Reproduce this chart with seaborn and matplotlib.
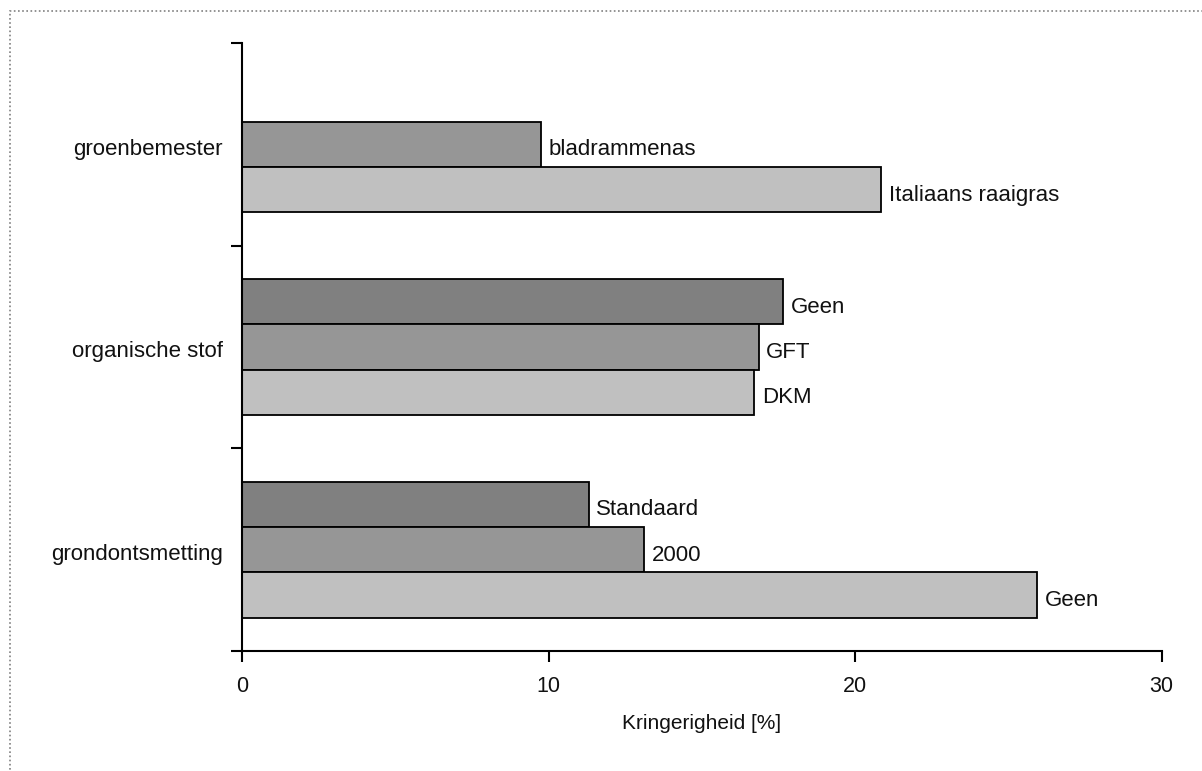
import matplotlib
matplotlib.use("Agg")
import matplotlib.pyplot as plt
import matplotlib.patches as mpatches
from matplotlib.ticker import FixedLocator
import seaborn as sns
import pandas as pd
import numpy as np

categories = ["groenbemester", "organische stof", "grondontsmetting"]
series_order = ["s3", "s2", "s1"]
# per series: values and labels, in category order (None = no bar)
s3_values = [None, 17.65, 11.3]
s3_labels = [None, "Geen", "Standaard"]
s2_values = [9.74, 16.85, 13.12]
s2_labels = ["bladrammenas", "GFT", "2000"]
s1_values = [20.84, 16.71, 25.93]
s1_labels = ["Italiaans raaigras", "DKM", "Geen"]
colors = {"s3": "#808080", "s2": "#969696", "s1": "#c0c0c0"}
xticks = [0, 10, 20, 30]
xlabel = "Kringerigheid [%]"

rows = []
for s, vals, labs in [("s3", s3_values, s3_labels), ("s2", s2_values, s2_labels), ("s1", s1_values, s1_labels)]:
    for c, v, l in zip(categories, vals, labs):
        if v is not None:
            rows.append({"category": c, "series": s, "value": v, "label": l})
df = pd.DataFrame(rows)

sns.set_theme(style="white")
plt.rcParams["font.family"] = ["Liberation Sans", "DejaVu Sans"]

W, H = 1202, 771
fig = plt.figure(figsize=(W / 100, H / 100), dpi=100)
ax = fig.add_axes([242.5 / W, 1 - 651 / H, (1161.5 - 242.5) / W, (651 - 43) / H])

sns.barplot(data=df, y="category", x="value", hue="series", order=categories,
            hue_order=series_order, palette=colors, orient="h", width=0.67,
            dodge=True, edgecolor="black", linewidth=1.3, legend=False,
            errorbar=None, saturation=1, ax=ax)

for cont, s in zip(ax.containers, series_order):
    labs = df[df["series"] == s]["label"].tolist()
    anns = ax.bar_label(cont, labels=labs, padding=6, fontsize=16, color="#111111")
    for a in anns:
        a.xyann = (5.5, -4)

ax.set_xlim(0, 30)
ax.set_ylim(2.5, -0.5)
ax.set_xticks(xticks)
ax.set_xticklabels([str(t) for t in xticks], fontsize=15.5, color="#111111")
ax.set_yticks(range(len(categories)))
ax.set_yticklabels([])
for i, c in enumerate(categories):
    ax.annotate(c, xy=(0, i), xycoords=ax.get_yaxis_transform(), xytext=(-14, -3.5),
                textcoords="offset points", ha="right", va="center",
                fontsize=16, color="#111111")
ax.yaxis.set_minor_locator(FixedLocator([-0.5, 0.5, 1.5, 2.5]))
ax.tick_params(axis="y", which="major", length=0)
ax.tick_params(axis="y", which="minor", length=8, width=1.5, color="black", direction="out", left=True)
ax.tick_params(axis="x", which="major", length=8, width=1.5, color="black", direction="out", bottom=True, pad=10)
ax.set_xlabel(xlabel, fontsize=15, color="#111111", labelpad=12)
ax.set_ylabel("")
for side in ["top", "right"]:
    ax.spines[side].set_visible(False)
for side in ["left", "bottom"]:
    ax.spines[side].set_color("black")
    ax.spines[side].set_linewidth(1.5)

border = mpatches.Rectangle((9.5 / W, -0.1), 1.2, 1 - 11.5 / H + 0.1, transform=fig.transFigure,
                            fill=False, edgecolor="#808080", linewidth=1.2,
                            linestyle=(0, (1, 1.5)))
fig.patches.append(border)

fig.savefig("out.png", dpi=100)
